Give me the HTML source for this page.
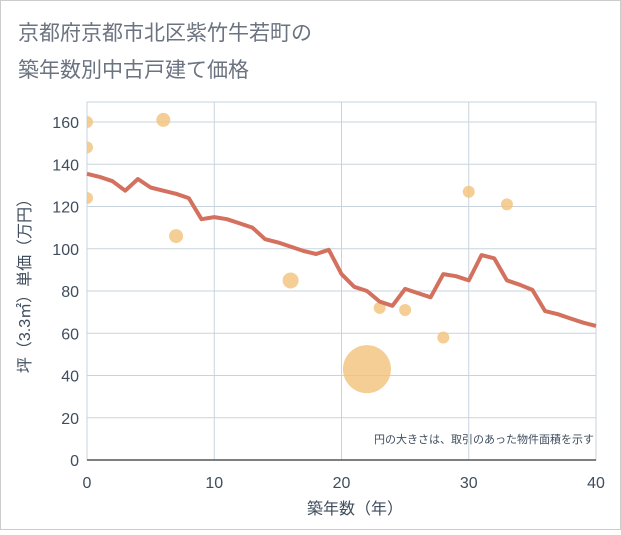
<!DOCTYPE html>
<html><head><meta charset="utf-8">
<style>
body{margin:0;background:#fff;font-family:"Liberation Sans","Noto Sans CJK JP",sans-serif;}
#wrap{position:relative;width:621px;height:530px;background:#fff;}
</style></head>
<body>
<div id="wrap">
<svg id="chart" width="621" height="530" xmlns="http://www.w3.org/2000/svg">
<rect x="0.5" y="0.5" width="620" height="529" fill="#fff" stroke="#ccc"/>
<text x="18" y="40" font-size="21" fill="#6b7380" font-family="Liberation Sans,Noto Sans CJK JP,sans-serif">京都府京都市北区紫竹牛若町の</text>
<text x="18" y="77" font-size="21" fill="#6b7380" font-family="Liberation Sans,Noto Sans CJK JP,sans-serif">築年数別中古戸建て価格</text>
<defs><clipPath id="pc"><rect x="87" y="102" width="509" height="358"/></clipPath></defs>
<g id="grid"></g>
<g id="bubbles" clip-path="url(#pc)"></g>
<g id="line"></g>
<g id="axes"></g>
<text x="594" y="443" font-size="11" fill="#3f4d5e" text-anchor="end" font-family="Liberation Sans,Noto Sans CJK JP,sans-serif">円の大きさは、取引のあった物件面積を示す</text>
<text x="355" y="514" font-size="16" fill="#3f4d5e" text-anchor="middle" font-family="Liberation Sans,Noto Sans CJK JP,sans-serif">築年数（年）</text>
<text transform="translate(30,282) rotate(-90)" font-size="16" fill="#3f4d5e" text-anchor="middle" font-family="Liberation Sans,Noto Sans CJK JP,sans-serif">坪（3.3㎡）単価（万円）</text>
</svg>
</div>
<script>
const xTicks=[0,10,20,30,40];
const yTicks=[0,20,40,60,80,100,120,140,160];
const lineYears=[0,1,2,3,4,5,6,7,8,9,10,11,12,13,14,15,16,17,18,19,20,21,22,23,24,25,26,27,28,29,30,31,32,33,34,35,36,37,38,39,40];
const linePrices=[135.5,134,132,127.5,133,129,127.5,126,124,114,115,114,112,110,104.5,103,101,99,97.5,99.5,88,82,80,75,73,81,79,77,88,87,85,97,95.5,85,83,80.5,70.5,69,67,65,63.5];
const bubbleYears=[0,0,0,6,7,16,22,23,25,28,30,33];
const bubblePrices=[160,148,124,161,106,85,43,72,71,58,127,121];
const bubbleSizes=[6,6,6,7,7,8,24,6,6,6,6,6];
const NS="http://www.w3.org/2000/svg";
const X0=87,X1=596,Y0=460,Y1=122;
const xs=v=>X0+(v/40)*(X1-X0);
const ys=v=>Y0-(v/160)*(Y0-Y1);
function mk(tag,attrs,parent){const e=document.createElementNS(NS,tag);for(const k in attrs)e.setAttribute(k,attrs[k]);document.getElementById(parent).appendChild(e);return e;}
xTicks.forEach(t=>{
 const l=mk('line',{x1:xs(t),x2:xs(t),y1:102,y2:Y0,stroke:'#c9d3dd','stroke-width':1},'grid');
 
 
 const tx=mk('text',{x:xs(t),y:488,'font-size':16,fill:'#3f4d5e','text-anchor':'middle','font-family':'Liberation Sans,sans-serif'},'axes');
 tx.textContent=t;
 
 
});
yTicks.forEach(t=>{
 const l=mk('line',{x1:X0,x2:X1,y1:ys(t),y2:ys(t),stroke:'#c9d3dd','stroke-width':1},'grid');
 
 
 const tx=mk('text',{x:79,y:ys(t)+6,'font-size':16,fill:'#3f4d5e','text-anchor':'end','font-family':'Liberation Sans,sans-serif'},'axes');
 tx.textContent=t;
 
 
});
const frame=mk('rect',{x:X0,y:102,width:X1-X0,height:Y0-102,fill:'none',stroke:'#c9d3dd'},'grid');


const ax=mk('line',{x1:X0,x2:X1,y1:Y0,y2:Y0,stroke:'#555','stroke-width':1.5},'axes');


bubbleYears.forEach((y,i)=>{
 const c=mk('circle',{cx:xs(y),cy:ys(bubblePrices[i]),r:bubbleSizes[i],fill:'#f3c27a','fill-opacity':0.8},'bubbles');
 
 
});
const d=lineYears.map((y,i)=>(i?'L':'M')+xs(y).toFixed(1)+','+ys(linePrices[i]).toFixed(1)).join(' ');
const p=mk('path',{d:d,fill:'none',stroke:'#d4705e','stroke-width':4,'stroke-linejoin':'round'},'line');


</script>
</body></html>
